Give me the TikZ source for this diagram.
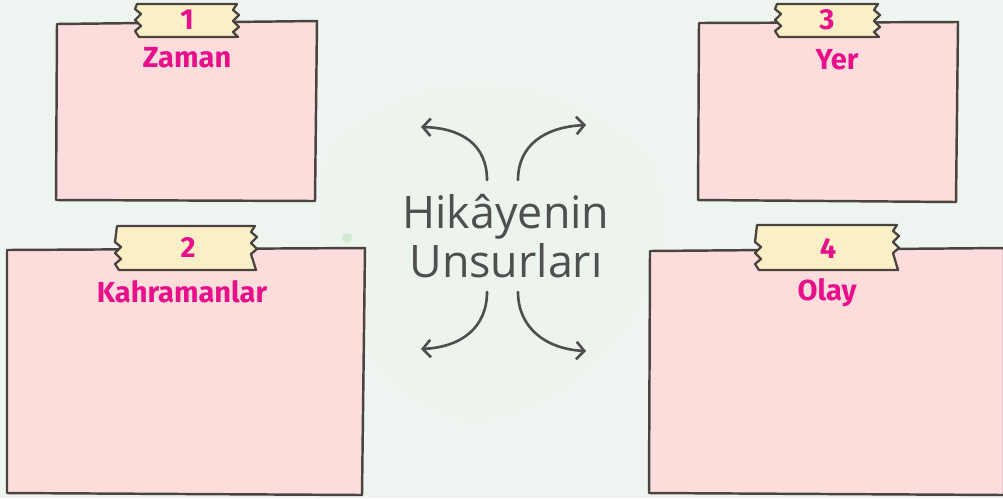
\documentclass[tikz,border=0pt]{standalone}
\usepackage{fontspec}
\setmainfont{Open Sans}
\newfontfamily\labelfont{Fira Sans}
\usetikzlibrary{arrows.meta}
\definecolor{bgc}{HTML}{EEF4EF}
\definecolor{paper}{HTML}{FDDDDC}
\definecolor{edge}{HTML}{4A4440}
\definecolor{tapec}{HTML}{FAEFC6}
\definecolor{pinkt}{HTML}{E8108A}
\definecolor{greyt}{HTML}{4F4F4F}
\tikzset{
  paperbox/.style={fill=paper, draw=edge, line width=1.4pt, line join=round},
  tapebox/.style={fill=tapec, draw=edge, line width=1.3pt, line join=round},
  numlabel/.style={font=\labelfont\bfseries\fontsize{16.5}{16.5}\selectfont, text=pinkt, inner sep=0pt},
  titlelabel/.style={font=\labelfont\bfseries\fontsize{16.5}{16.5}\selectfont, text=pinkt, inner sep=0pt},
  centertext/.style={font=\fontsize{25.5}{28}\selectfont, text=greyt, align=center, inner sep=0pt},
  curvearrow/.style={draw=greyt, line width=1.5pt, line cap=round, -{Straight Barb[length=4.5pt,width=10pt,line width=1.5pt]}}
}
% tape: x1 x2 ytop ybottom
\newcommand{\tapeshape}[4]{%
  \path[tapebox] (#1,#3) -- (#2,#3)
    -- (#2-4,#3+6) -- (#2+2,#3+11) -- (#2-4,#3+17) -- (#2+2,#3+23) -- (#2-4,#3+28) -- (#2+1,#4)
    -- (#1+2,#4) -- (#1-2,#4-6) -- (#1+4,#4-11) -- (#1-2,#4-17) -- (#1+4,#4-23) -- (#1-2,#4-28) -- cycle;}
\begin{document}
\begin{tikzpicture}[x=0.02cm,y=-0.02cm]
\useasboundingbox (0,0) rectangle (1003,498);
\fill[bgc] (0,0) rectangle (1003,498);
% faint watercolor patches
\fill[green!25!gray!12, opacity=0.25] (330,150) .. controls (420,60) and (560,70) .. (650,160) .. controls (700,300) and (560,420) .. (470,420) .. controls (360,400) and (300,260) .. (330,150) -- cycle;
\fill[green!40!gray!40, opacity=0.5] (347,238) circle (5);

% box 1
\path[paperbox] (57,24) -- (317,21) -- (315,201) -- (56,200) -- cycle;
\tapeshape{137}{237}{4}{37}
\node[numlabel] (n1) at (187,20) {1};
\node[titlelabel] (t1) at (187,58) {Zaman};

% box 2
\path[paperbox] (7,250) -- (365,248) -- (362,495) -- (7,493) -- cycle;
\tapeshape{117}{255}{226}{270}
\node[numlabel] (n2) at (188,247) {2};
\node[titlelabel] (t2) at (182,292) {Kahramanlar};

% box 3
\path[paperbox] (699,23) -- (958,22) -- (956,202) -- (698,200) -- cycle;
\tapeshape{777}{878}{4}{37}
\node[numlabel] (n3) at (827,20) {3};
\node[titlelabel] (t3) at (837,60) {Yer};

% box 4
\path[paperbox] (650,251) -- (1004,248) -- (1004,495) -- (649,493) -- cycle;
\tapeshape{757}{897}{225}{270}
\node[numlabel] (n4) at (828,248) {4};
\node[titlelabel] (t4) at (827,293) {Olay};

% centre
\node[centertext] (c) at (506,236) {Hikâyenin\\Unsurları};

\coordinate (s1) at (487,180);
\coordinate (e1) at (421,127);
\coordinate (s2) at (518,180);
\coordinate (e2) at (586,125);
\coordinate (s3) at (487,292);
\coordinate (e3) at (421,349);
\coordinate (s4) at (518,292);
\coordinate (e4) at (586,351);
\draw[curvearrow] (s1) .. controls (487,145) and (462,128) .. (e1);
\draw[curvearrow] (s2) .. controls (518,145) and (545,127) .. (e2);
\draw[curvearrow] (s3) .. controls (487,327) and (462,347) .. (e3);
\draw[curvearrow] (s4) .. controls (518,327) and (545,349) .. (e4);
\end{tikzpicture}
\end{document}
